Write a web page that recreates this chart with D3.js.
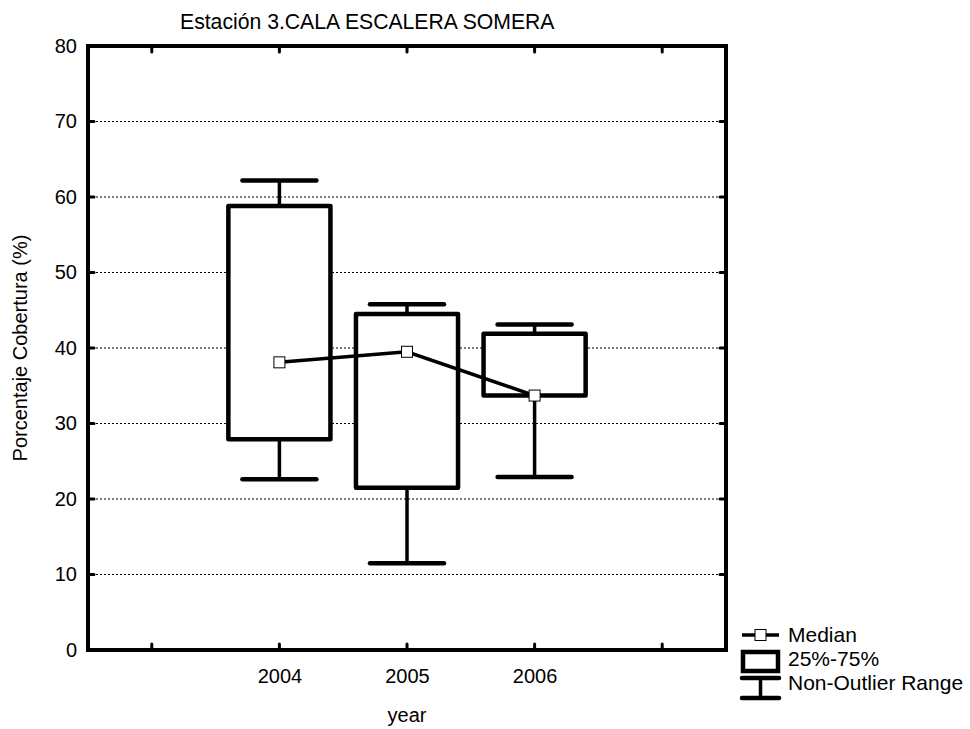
<!DOCTYPE html>
<html lang="es">
<head>
<meta charset="utf-8">
<script src="https://d3js.org/d3.v7.min.js"></script>
<style>
  body { margin: 0; background: #fff; }
  svg { display: block; font-family: "Liberation Sans", Arial, sans-serif; }
  text { fill: #000; font-size: 20px; }
</style>
</head>
<body>
<div id="chart"></div>
<script>
// data
var years = ["2004", "2005", "2006"];
var medians = [38.1, 39.5, 33.7];
var q1 = [27.9, 21.5, 33.7];
var q3 = [58.8, 44.5, 41.9];
var whiskerLow = [22.6, 11.5, 22.9];
var whiskerHigh = [62.2, 45.8, 43.1];
var yTicks = [0, 10, 20, 30, 40, 50, 60, 70, 80];
var xTickPos = [1, 2, 3, 4, 5];

var width = 970, height = 729;
var plot = {left: 88, right: 726, top: 46, bottom: 650};

var svg = d3.select("#chart").append("svg")
  .attr("width", width)
  .attr("height", height);

// scales
var x = d3.scaleLinear().domain([0.5, 5.5]).range([plot.left, plot.right]);
var y = d3.scaleLinear().domain([0, 80]).range([plot.bottom, plot.top]);
var band = x(2) - x(1);
var pos = function(i) { return x(i + 2); };

////////// gridlines //////////
svg.append("g").selectAll("line")
  .data(yTicks.filter(function(d) { return d > 0 && d < 80; }))
  .enter().append("line")
  .attr("x1", plot.left).attr("x2", plot.right)
  .attr("y1", function(d) { return y(d); })
  .attr("y2", function(d) { return y(d); })
  .attr("stroke", "#000")
  .attr("stroke-width", 1)
  .attr("stroke-dasharray", "2,2");

////////// boxes //////////
var boxes = svg.append("g").selectAll("g")
  .data(years)
  .enter().append("g");

// whisker stem
boxes.append("line")
  .attr("x1", function(d, i) { return pos(i); })
  .attr("x2", function(d, i) { return pos(i); })
  .attr("y1", function(d, i) { return y(whiskerLow[i]); })
  .attr("y2", function(d, i) { return y(whiskerHigh[i]); })
  .attr("stroke", "#000")
  .attr("stroke-width", 3.5);

// whisker caps
[whiskerLow, whiskerHigh].forEach(function(arr) {
  boxes.append("line")
    .attr("x1", function(d, i) { return pos(i) - band * 0.29; })
    .attr("x2", function(d, i) { return pos(i) + band * 0.29; })
    .attr("y1", function(d, i) { return y(arr[i]); })
    .attr("y2", function(d, i) { return y(arr[i]); })
    .attr("stroke", "#000")
    .attr("stroke-width", 4.5)
    .attr("stroke-linecap", "round");
});

// 25%-75% box
boxes.append("rect")
  .attr("x", function(d, i) { return pos(i) - band * 0.4; })
  .attr("width", band * 0.8)
  .attr("y", function(d, i) { return y(q3[i]); })
  .attr("height", function(d, i) { return y(q1[i]) - y(q3[i]); })
  .attr("fill", "#fff")
  .attr("stroke", "#000")
  .attr("stroke-width", 4.5)
  .attr("stroke-linejoin", "round");

// median line + markers
var line = d3.line()
  .x(function(d, i) { return pos(i); })
  .y(function(d) { return y(d); });

svg.append("path")
  .datum(medians)
  .attr("d", line)
  .attr("fill", "none")
  .attr("stroke", "#000")
  .attr("stroke-width", 3.5);

svg.append("g").selectAll("rect")
  .data(medians)
  .enter().append("rect")
  .attr("x", function(d, i) { return pos(i) - 5.5; })
  .attr("y", function(d) { return y(d) - 5.5; })
  .attr("width", 11).attr("height", 11)
  .attr("fill", "#fff")
  .attr("stroke", "#000")
  .attr("stroke-width", 1);

////////// frame and ticks //////////
svg.append("rect")
  .attr("x", plot.left).attr("y", plot.top)
  .attr("width", plot.right - plot.left)
  .attr("height", plot.bottom - plot.top)
  .attr("fill", "none")
  .attr("stroke", "#000")
  .attr("stroke-width", 4);

var ticks = svg.append("g")
  .attr("stroke", "#000")
  .attr("stroke-width", 3)
  .attr("stroke-linecap", "round");

xTickPos.forEach(function(t) {
  ticks.append("line").attr("x1", x(t)).attr("x2", x(t))
    .attr("y1", plot.bottom).attr("y2", plot.bottom - 6);
  ticks.append("line").attr("x1", x(t)).attr("x2", x(t))
    .attr("y1", plot.top).attr("y2", plot.top + 6);
});
yTicks.forEach(function(t) {
  ticks.append("line").attr("y1", y(t)).attr("y2", y(t))
    .attr("x1", plot.left).attr("x2", plot.left + 6);
  ticks.append("line").attr("y1", y(t)).attr("y2", y(t))
    .attr("x1", plot.right).attr("x2", plot.right - 6);
});

////////// axes labels //////////
var yAxis = svg.append("g")
  .attr("transform", "translate(" + plot.left + ",0)")
  .call(d3.axisLeft(y).tickValues(yTicks).tickSize(0).tickPadding(11));
yAxis.select(".domain").remove();

var xAxis = svg.append("g")
  .attr("transform", "translate(0," + plot.bottom + ")")
  .call(d3.axisBottom(x).tickValues([2, 3, 4]).tickSize(0).tickPadding(19)
    .tickFormat(function(d) { return years[d - 2]; }));
xAxis.select(".domain").remove();

svg.selectAll(".tick text")
  .attr("font-family", "Liberation Sans, Arial, sans-serif")
  .attr("font-size", 20.5)
  .attr("fill", "#000");

svg.append("text")
  .attr("x", 180).attr("y", 29)
  .style("font-size", "21.2px")
  .text("Estación 3.CALA ESCALERA SOMERA");

svg.append("text")
  .attr("x", (plot.left + plot.right) / 2).attr("y", 722)
  .attr("text-anchor", "middle")
  .text("year");

svg.append("text")
  .attr("transform", "translate(27," + (plot.top + plot.bottom) / 2 + ") rotate(-90)")
  .attr("text-anchor", "middle")
  .text("Porcentaje Cobertura (%)");

////////// legend //////////
var lg = svg.append("g").attr("stroke", "#000");
// median
lg.append("line").attr("x1", 742).attr("x2", 779).attr("y1", 635).attr("y2", 635)
  .attr("stroke-width", 3.5);
lg.append("rect").attr("x", 755).attr("y", 629.5).attr("width", 11).attr("height", 11)
  .attr("fill", "#fff").attr("stroke-width", 1);
// box
lg.append("rect").attr("x", 743).attr("y", 652).attr("width", 35).attr("height", 19)
  .attr("fill", "#fff").attr("stroke-width", 4.5);
// whisker
lg.append("line").attr("x1", 742).attr("x2", 779).attr("y1", 678).attr("y2", 678)
  .attr("stroke-width", 4.5).attr("stroke-linecap", "round");
lg.append("line").attr("x1", 760.5).attr("x2", 760.5).attr("y1", 678).attr("y2", 698)
  .attr("stroke-width", 3.5);
lg.append("line").attr("x1", 742).attr("x2", 779).attr("y1", 698).attr("y2", 698)
  .attr("stroke-width", 4.5).attr("stroke-linecap", "round");

var legendText = ["Median", "25%-75%", "Non-Outlier Range"];
svg.append("g").selectAll("text")
  .data(legendText)
  .enter().append("text")
  .attr("x", 788)
  .attr("y", function(d, i) { return 642 + i * 24; })
  .style("font-size", "21px")
  .text(function(d) { return d; });
</script>
</body>
</html>
